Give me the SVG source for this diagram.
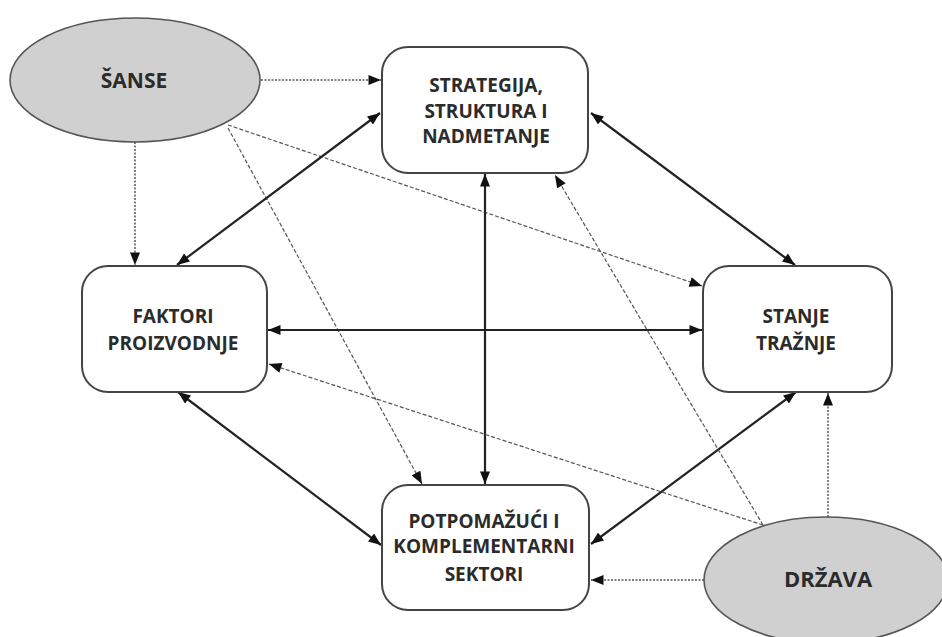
<svg xmlns="http://www.w3.org/2000/svg" width="942" height="637" viewBox="0 0 942 637">
<style>
.box{fill:#fff;stroke:#444;stroke-width:2}
.ell{fill:#d0d0d0;stroke:#555;stroke-width:1.6}
.t{font-family:"Open Sans","Liberation Sans",sans-serif;font-weight:bold;font-size:19px;fill:#2b2b2b;text-anchor:middle}
.solid{stroke:#222;stroke-width:2.2;fill:none}
.dot{stroke:#555;stroke-width:1.5;stroke-dasharray:2 1.5;fill:none}
.dash{stroke:#555;stroke-width:1.2;stroke-dasharray:4 2;fill:none}
</style>
<defs>
<marker id="ah" viewBox="0 0 10 8" refX="10" refY="4" markerWidth="13" markerHeight="10" markerUnits="userSpaceOnUse" orient="auto-start-reverse">
<path d="M0,0 L10,4 L0,8 z" fill="#111"/>
</marker>
</defs>
<rect width="942" height="637" fill="#fff"/>
<g id="connectors">
<line class="dot" x1="261" y1="80" x2="381" y2="80" marker-end="url(#ah)"/>
<line class="dot" x1="135" y1="142" x2="135" y2="265" marker-end="url(#ah)"/>
<line class="dash" x1="228" y1="125" x2="702" y2="286" marker-end="url(#ah)"/>
<line class="dash" x1="228" y1="128" x2="422" y2="484" marker-end="url(#ah)"/>
<line class="solid" x1="177" y1="265" x2="380" y2="113" marker-start="url(#ah)" marker-end="url(#ah)"/>
<line class="solid" x1="591" y1="113" x2="795" y2="265" marker-start="url(#ah)" marker-end="url(#ah)"/>
<line class="solid" x1="485" y1="174" x2="485" y2="484" marker-start="url(#ah)" marker-end="url(#ah)"/>
<line class="solid" x1="268" y1="330" x2="702" y2="330" marker-start="url(#ah)" marker-end="url(#ah)"/>
<line class="solid" x1="178" y1="392" x2="381" y2="545" marker-start="url(#ah)" marker-end="url(#ah)"/>
<line class="solid" x1="796" y1="392" x2="591" y2="544" marker-start="url(#ah)" marker-end="url(#ah)"/>
<line class="dot" x1="704" y1="580" x2="591" y2="580" marker-end="url(#ah)"/>
<line class="dot" x1="828" y1="517" x2="828" y2="393" marker-end="url(#ah)"/>
<line class="dash" x1="763" y1="525" x2="555" y2="175" marker-end="url(#ah)"/>
<line class="dash" x1="763" y1="525" x2="269" y2="364" marker-end="url(#ah)"/>
</g>
<g id="sanse">
<ellipse class="ell" cx="135" cy="80" rx="125" ry="62"/>
<text class="t" x="134" y="88" style="font-size:21px">ŠANSE</text>
</g>
<g id="strategija">
<rect class="box" x="382" y="47" width="206" height="126" rx="26"/>
<text class="t" x="486" y="92">STRATEGIJA,</text>
<text class="t" x="486" y="118">STRUKTURA I</text>
<text class="t" x="486" y="143">NADMETANJE</text>
</g>
<g id="faktori">
<rect class="box" x="82" y="266" width="185" height="126" rx="26"/>
<text class="t" x="173" y="323">FAKTORI</text>
<text class="t" x="173" y="350">PROIZVODNJE</text>
</g>
<g id="stanje">
<rect class="box" x="703" y="266" width="189" height="126" rx="26"/>
<text class="t" x="796" y="323">STANJE</text>
<text class="t" x="796" y="350">TRAŽNJE</text>
</g>
<g id="potpomazuci">
<rect class="box" x="382" y="485" width="207" height="125" rx="26"/>
<text class="t" x="484" y="528">POTPOMAŽUĆI I</text>
<text class="t" x="484" y="553">KOMPLEMENTARNI</text>
<text class="t" x="484" y="581">SEKTORI</text>
</g>
<g id="drzava">
<ellipse class="ell" cx="826" cy="580" rx="122" ry="63"/>
<text class="t" x="828" y="587" style="font-size:22px">DRŽAVA</text>
</g>
</svg>
